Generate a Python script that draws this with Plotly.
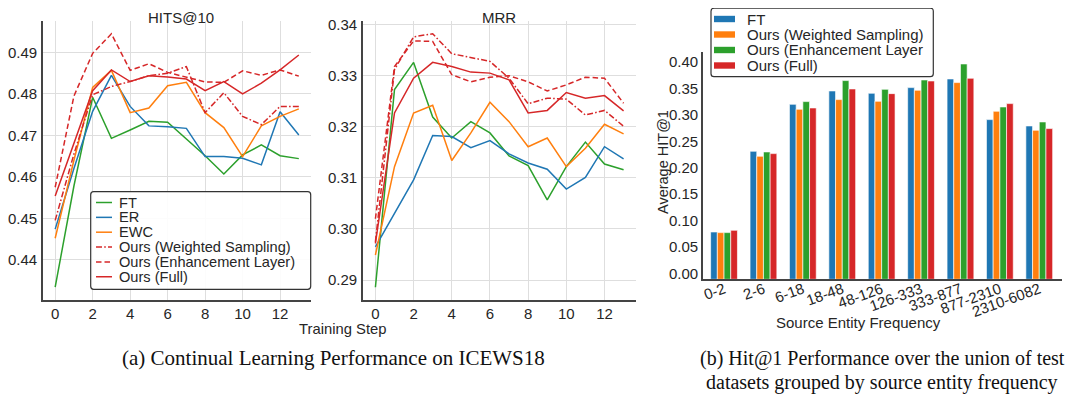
import plotly.graph_objects as go

# The page places the figure 8px in from the top-left corner, so the figure is
# sized to the visible area and positions are given in window pixels.
OFF = 8
W, H = 1073 - OFF, 402 - OFF

# ---------------- data ----------------
steps = list(range(14))
step_ticks = [0, 2, 4, 6, 8, 10, 12]

hits_ft = [0.4334, 0.4578, 0.4792, 0.4693, 0.4713, 0.4734, 0.4732, 0.4691, 0.4651, 0.4607, 0.4653, 0.4677, 0.4651, 0.4644]
hits_er = [0.4474, 0.4620, 0.4758, 0.4845, 0.4770, 0.4723, 0.4721, 0.4717, 0.4649, 0.4649, 0.4645, 0.4629, 0.4757, 0.4701]
hits_ewc = [0.4452, 0.4640, 0.4816, 0.4857, 0.4755, 0.4766, 0.4820, 0.4828, 0.4755, 0.4719, 0.4649, 0.4723, 0.4746, 0.4764]
hits_ws = [0.4495, 0.4655, 0.4798, 0.4818, 0.4830, 0.4844, 0.4850, 0.4866, 0.4755, 0.4803, 0.4746, 0.4726, 0.4770, 0.4770]
hits_el = [0.4575, 0.4795, 0.4898, 0.4945, 0.4857, 0.4873, 0.4852, 0.4840, 0.4829, 0.4828, 0.4856, 0.4845, 0.4858, 0.4843]
hits_full = [0.4554, 0.4680, 0.4808, 0.4858, 0.4830, 0.4844, 0.4841, 0.4836, 0.4808, 0.4830, 0.4800, 0.4826, 0.4858, 0.4894]
hits_ticks = [0.44, 0.45, 0.46, 0.47, 0.48, 0.49]

mrr_ft = [0.2886, 0.3273, 0.3326, 0.3219, 0.3178, 0.3210, 0.3188, 0.3143, 0.3124, 0.3057, 0.3122, 0.3170, 0.3127, 0.3116]
mrr_er = [0.2965, 0.3032, 0.3096, 0.3183, 0.3181, 0.3159, 0.3173, 0.3147, 0.3129, 0.3117, 0.3078, 0.3101, 0.3161, 0.3137]
mrr_ewc = [0.2949, 0.3122, 0.3227, 0.3242, 0.3134, 0.3188, 0.3248, 0.3210, 0.3161, 0.3178, 0.3122, 0.3158, 0.3205, 0.3186]
mrr_ws = [0.2975, 0.3312, 0.3376, 0.3382, 0.3343, 0.3336, 0.3328, 0.3295, 0.3245, 0.3256, 0.3254, 0.3223, 0.3232, 0.3201]
mrr_el = [0.3020, 0.3318, 0.3368, 0.3367, 0.3302, 0.3288, 0.3297, 0.3300, 0.3288, 0.3270, 0.3282, 0.3297, 0.3295, 0.3246]
mrr_full = [0.2972, 0.3227, 0.3295, 0.3326, 0.3318, 0.3307, 0.3305, 0.3292, 0.3227, 0.3232, 0.3267, 0.3256, 0.3261, 0.3231]
mrr_ticks = [0.29, 0.30, 0.31, 0.32, 0.33, 0.34]

freq_bins = ["0-2", "2-6", "6-18", "18-48", "48-126", "126-333", "333-877", "877-2310", "2310-6082"]
bar_ft = [0.0896, 0.2424, 0.3314, 0.3567, 0.3523, 0.3630, 0.3794, 0.3024, 0.2904]
bar_ws = [0.0884, 0.2330, 0.3220, 0.3403, 0.3371, 0.3580, 0.3725, 0.3182, 0.2822]
bar_el = [0.0884, 0.2412, 0.3365, 0.3763, 0.3598, 0.3775, 0.4078, 0.3264, 0.2980]
bar_full = [0.0928, 0.2380, 0.3245, 0.3605, 0.3516, 0.3756, 0.3807, 0.3327, 0.2854]
bar_ticks = [0.00, 0.05, 0.10, 0.15, 0.20, 0.25, 0.30, 0.35, 0.40]

line_names = ["FT", "ER", "EWC", "Ours (Weighted Sampling)", "Ours (Enhancement Layer)", "Ours (Full)"]
bar_names = ["FT", "Ours (Weighted Sampling)", "Ours (Enhancement Layer", "Ours (Full)"]

# ---------------- style ----------------
BLUE, ORANGE, GREEN, RED = "#1f77b4", "#ff7f0e", "#2ca02c", "#d62728"
TXT = "#262626"
FONT = "Liberation Sans, Arial, sans-serif"
SERIF = "Liberation Serif, Times New Roman, serif"
DASH = "5.5px,3px"
DASHDOT = "6px,2.2px,1.6px,2.2px"
LW = 1.5
line_styles = [(GREEN, "solid"), (BLUE, "solid"), (ORANGE, "solid"),
               (RED, DASHDOT), (RED, DASH), (RED, "solid")]


def px(x):
    return (x - OFF) / W


def py(y):
    return 1 - (y - OFF) / H


fig = go.Figure()

hits_series = [hits_ft, hits_er, hits_ewc, hits_ws, hits_el, hits_full]
mrr_series = [mrr_ft, mrr_er, mrr_ewc, mrr_ws, mrr_el, mrr_full]
for name, ys, (c, d) in zip(line_names, hits_series, line_styles):
    fig.add_trace(go.Scatter(x=steps, y=ys, mode="lines", name=name, showlegend=False,
                             line=dict(color=c, width=LW, dash=d), xaxis="x", yaxis="y"))
for name, ys, (c, d) in zip(line_names, mrr_series, line_styles):
    fig.add_trace(go.Scatter(x=steps, y=ys, mode="lines", name=name, showlegend=False,
                             line=dict(color=c, width=LW, dash=d), xaxis="x2", yaxis="y2"))

for name, ys, c in zip(bar_names, [bar_ft, bar_ws, bar_el, bar_full], [BLUE, ORANGE, GREEN, RED]):
    fig.add_trace(go.Bar(x=freq_bins, y=ys, name=name, showlegend=False,
                         marker=dict(color=c, line=dict(color="rgba(255,255,255,0.8)", width=0.8)),
                         xaxis="x3", yaxis="y3"))

axis_common = dict(showline=True, linecolor="#444444", linewidth=1.6, ticks="", automargin=False,
                   tickfont=dict(family=FONT, size=15, color=TXT), zeroline=False)
grid = dict(showgrid=True, gridcolor="#dedede", gridwidth=1.2)

ydom_lines = [py(300), py(21)]
fig.update_layout(
    width=W, height=H, margin=dict(l=0, r=0, t=0, b=0, autoexpand=False),
    paper_bgcolor="white", plot_bgcolor="white",
    barmode="group", bargap=0.32, bargroupgap=0.0,
    xaxis=dict(domain=[px(43), px(311)], range=[-0.65, 13.65], tickvals=step_ticks,
               anchor="y", ticklabelstandoff=-1, **axis_common, **grid),
    yaxis=dict(domain=ydom_lines, range=[0.4303, 0.4976], tickvals=hits_ticks,
               tickformat=".2f", anchor="x", ticklabelstandoff=1, **axis_common, **grid),
    xaxis2=dict(domain=[px(363), px(636)], range=[-0.65, 13.65], tickvals=step_ticks,
                anchor="y2", ticklabelstandoff=-1, **axis_common, **grid),
    yaxis2=dict(domain=ydom_lines, range=[0.2861, 0.3407], tickvals=mrr_ticks,
                tickformat=".2f", anchor="x2", ticklabelstandoff=1, **axis_common, **grid),
    xaxis3=dict(domain=[px(703), px(1062)], range=[-0.534, 8.577], type="category",
                tickangle=-20, anchor="y3", showgrid=False, ticklabelstandoff=-6, **axis_common),
    yaxis3=dict(domain=[py(279.3), py(51.7)], range=[0, 0.431], tickvals=bar_ticks,
                tickformat=".2f", anchor="x3", showgrid=False, ticklabelshift=-6,
                ticklabelstandoff=0, **axis_common),
)

shapes = []
annotations = []


def rounded_box(x0, y0, x1, y1, r=3):
    rx, ry = r / W, r / H
    X0, X1 = px(x0), px(x1)
    Y0, Y1 = py(y1), py(y0)  # bottom, top in paper coords
    path = (f"M {X0+rx},{Y0} L {X1-rx},{Y0} Q {X1},{Y0} {X1},{Y0+ry} "
            f"L {X1},{Y1-ry} Q {X1},{Y1} {X1-rx},{Y1} L {X0+rx},{Y1} "
            f"Q {X0},{Y1} {X0},{Y1-ry} L {X0},{Y0+ry} Q {X0},{Y0} {X0+rx},{Y0} Z")
    return dict(type="path", path=path, xref="paper", yref="paper", layer="above",
                line=dict(color="#333333", width=1.2), fillcolor="rgba(255,255,255,0.9)")


# line-chart legend
shapes.append(rounded_box(90.7, 191.7, 310.7, 289.3))
row0, dy = 202.5, 14.85
for i, (name, (c, d)) in enumerate(zip(line_names, line_styles)):
    yy = row0 + i * dy
    shapes.append(dict(type="line", xref="paper", yref="paper", layer="above",
                       x0=px(96), x1=px(112), y0=py(yy), y1=py(yy),
                       line=dict(color=c, width=LW, dash=d)))
    annotations.append(dict(text=name, x=px(117.5), y=py(yy), xref="paper", yref="paper",
                            xanchor="left", yanchor="middle", showarrow=False, borderpad=0,
                            font=dict(family=FONT, size=14.6, color=TXT)))

# bar-chart legend
shapes.append(rounded_box(711, 8.2, 933.3, 76.7))
brow0, bdy = 19.0, 15.5
for i, (name, c) in enumerate(zip(bar_names, [BLUE, ORANGE, GREEN, RED])):
    yy = brow0 + i * bdy
    shapes.append(dict(type="rect", xref="paper", yref="paper", layer="above",
                       x0=px(714), x1=px(735), y0=py(yy + 3.2), y1=py(yy - 3.2),
                       line=dict(width=0), fillcolor=c))
    annotations.append(dict(text=name, x=px(745.5), y=py(yy), xref="paper", yref="paper",
                            xanchor="left", yanchor="middle", showarrow=False, borderpad=0,
                            font=dict(family=FONT, size=15, color=TXT)))

# titles and axis labels
def label(text, x, y, size=15, angle=0, family=FONT, color=TXT, yanchor="middle"):
    annotations.append(dict(text=text, x=px(x), y=py(y), xref="paper", yref="paper",
                            xanchor="center", yanchor=yanchor, showarrow=False, textangle=angle,
                            borderpad=0, font=dict(family=family, size=size, color=color)))


label("HITS@10", 181, OFF, yanchor="top")
label("MRR", 498.5, OFF, yanchor="top")
label("Training Step", 342.5, 328.5, size=14.8)
label("Average HIT@1", 662.3, 161.7, size=14.5, angle=-90)
label("Source Entity Frequency", 858, 322.5)
label("(a) Continual Learning Performance on ICEWS18", 333, 357.5, size=21, family=SERIF, color="#111111")
label("(b) Hit@1 Performance over the union of test", 882, 358, size=20, family=SERIF, color="#111111")
label("datasets grouped by source entity frequency", 882, 382, size=20, family=SERIF, color="#111111")

fig.update_layout(shapes=shapes, annotations=annotations)
fig.write_html("out.html")
